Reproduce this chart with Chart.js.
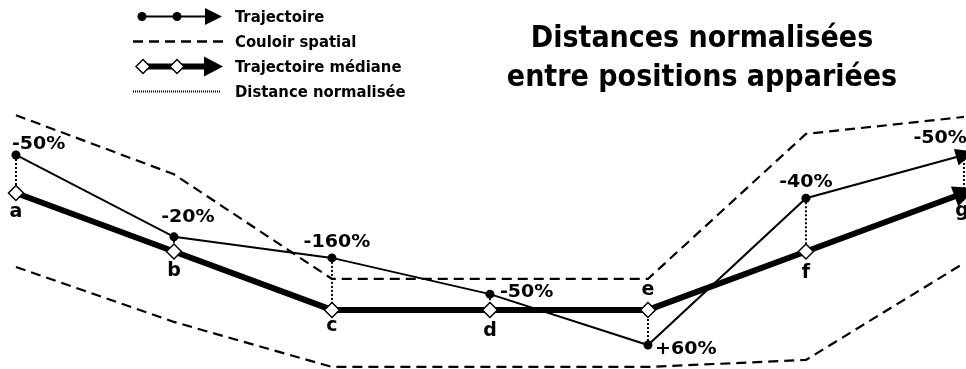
<!DOCTYPE html>
<html lang="fr">
<head>
<meta charset="utf-8">
<script src="https://cdn.jsdelivr.net/npm/chart.js@4.4.0/dist/chart.umd.min.js"></script>
<style>
	body { margin: 0; background: #fff; font-family: "DejaVu Sans", sans-serif; }
	#wrap { position: relative; width: 966px; height: 369px; }
	#title { position: absolute; left: 402px; top: 17px; width: 600px; text-align: center; font-family: "DejaVu Sans Condensed", "DejaVu Sans", sans-serif; font-stretch: condensed; font-weight: bold; font-size: 30px; line-height: 39px; color: #000; }
	#legend { position: absolute; left: 130px; top: 3.5px; }
	.row { display: flex; align-items: center; height: 25px; font-family: "DejaVu Sans Condensed", "DejaVu Sans", sans-serif; font-stretch: condensed; font-weight: bold; font-size: 16.5px; color: #000; }
	.row svg { width: 100px; height: 25px; margin-right: 5px; flex: none; }
</style>
</head>
<body>
<div id="wrap">
	<canvas id="chart"></canvas>
	<div id="title">Distances normalisées<br>entre positions appariées</div>
	<div id="legend">
		<div class="row">
			<svg viewBox="0 0 100 25"><line x1="8" y1="12.5" x2="80" y2="12.5" stroke="#000" stroke-width="2"/><circle cx="12" cy="12.5" r="4.5"/><circle cx="47" cy="12.5" r="4.5"/><polygon points="75,4 92,12.5 75,21"/></svg>
			<span>Trajectoire</span>
		</div>
		<div class="row">
			<svg viewBox="0 0 100 25"><line x1="3" y1="12.5" x2="93" y2="12.5" stroke="#000" stroke-width="2.5" stroke-dasharray="10 6"/></svg>
			<span>Couloir spatial</span>
		</div>
		<div class="row">
			<svg viewBox="0 0 100 25"><line x1="13" y1="12.5" x2="80" y2="12.5" stroke="#000" stroke-width="6"/><polygon points="6,12.5 13,5.5 20,12.5 13,19.5" fill="#fff" stroke="#000" stroke-width="1.5"/><polygon points="40,12.5 47,5.5 54,12.5 47,19.5" fill="#fff" stroke="#000" stroke-width="1.5"/><polygon points="74,2.5 93,12.5 74,22.5"/></svg>
			<span>Trajectoire médiane</span>
		</div>
		<div class="row">
			<svg viewBox="0 0 100 25"><line x1="3" y1="12.5" x2="90" y2="12.5" stroke="#000" stroke-width="2" stroke-dasharray="1 1"/></svg>
			<span>Distance normalisée</span>
		</div>
	</div>
</div>
<script>
// positions appariées a..g
const categories = ["a", "b", "c", "d", "e", "f", "g"];
const trajectoire = [2.65, 1.25, 0.89, 0.27, -0.6, 1.91, 2.65];
const trajectoireMediane = [2, 1, 0, 0, 0, 1, 2];
const couloirHaut = [3.33, 2.32, 0.53, 0.53, 0.53, 3.01, 3.3];
const couloirBas = [0.735, -0.205, -0.975, -0.975, -0.975, -0.855, 0.8];
const distances = ["-50%", "-20%", "-160%", "-50%", "+60%", "-40%", "-50%"];

// label placement: dx, dy, align
const distLabelPos = [[-4, -10, "left"], [14, -19, "center"], [5, -15, "center"], [10, -2, "left"], [7, 5, "left"], [0, -16, "center"], [3, -16, "right"]];
const letterLabelPos = [[0, 19], [0, 20], [0, 16], [0, 21], [0, -20], [0, 22], [-2, 18]];

function toPoints(values) {
	return values.map((v, i) => ({ x: i, y: v }));
}

function lastHidden(r) {
	return (ctx) => (ctx.dataIndex === categories.length - 1 ? 0 : r);
}

function drawArrow(ctx, meta, len, back, half) {
	const pts = meta.data;
	const p = pts[pts.length - 1];
	const q = pts[pts.length - 2];
	const a = Math.atan2(p.y - q.y, p.x - q.x);
	const c = Math.cos(a), s = Math.sin(a);
	const bx = p.x - back * c, by = p.y - back * s;
	ctx.beginPath();
	ctx.moveTo(p.x + (len - back) * c, p.y + (len - back) * s);
	ctx.lineTo(bx - half * s, by + half * c);
	ctx.lineTo(bx + half * s, by - half * c);
	ctx.closePath();
	ctx.fill();
}

const annotations = {
	id: "annotations",
	beforeDatasetsDraw(chart) {
		const { ctx, scales: { x, y } } = chart;
		ctx.save();
		ctx.strokeStyle = "#000";
		ctx.lineWidth = 2;
		ctx.setLineDash([2, 2]);
		categories.forEach((c, i) => {
			ctx.beginPath();
			ctx.moveTo(x.getPixelForValue(i), y.getPixelForValue(trajectoire[i]));
			ctx.lineTo(x.getPixelForValue(i), y.getPixelForValue(trajectoireMediane[i]));
			ctx.stroke();
		});
		ctx.restore();
	},
	afterDatasetsDraw(chart) {
		const { ctx, scales: { x, y } } = chart;
		ctx.save();
		ctx.fillStyle = "#000";
		drawArrow(ctx, chart.getDatasetMeta(0), 20, 8, 8.5);
		drawArrow(ctx, chart.getDatasetMeta(1), 24, 10, 10.5);

		// distance labels are a bit wide in the original
		ctx.font = "bold 17px 'DejaVu Sans'";
		ctx.textBaseline = "middle";
		distances.forEach((t, i) => {
			const [dx, dy, align] = distLabelPos[i];
			ctx.save();
			ctx.translate(x.getPixelForValue(i) + dx, y.getPixelForValue(trajectoire[i]) + dy);
			ctx.scale(1.12, 1);
			ctx.textAlign = align;
			ctx.fillText(t, 0, 0);
			ctx.restore();
		});
		ctx.font = "bold 19px 'DejaVu Sans'";
		ctx.textAlign = "center";
		categories.forEach((t, i) => {
			const [dx, dy] = letterLabelPos[i];
			ctx.fillText(t, x.getPixelForValue(i) + dx, y.getPixelForValue(trajectoireMediane[i]) + dy);
		});
		ctx.restore();
	},
};

new Chart(document.getElementById("chart"), {
	type: "line",
	data: {
		datasets: [
			{
				label: "Trajectoire",
				data: toPoints(trajectoire),
				borderColor: "#000",
				borderWidth: 2,
				pointStyle: "circle",
				pointRadius: lastHidden(4.5),
				pointBackgroundColor: "#000",
				pointBorderWidth: 0,
				tension: 0,
				clip: false,
			},
			{
				label: "Trajectoire médiane",
				data: toPoints(trajectoireMediane),
				borderColor: "#000",
				borderWidth: 6,
				pointStyle: "rectRot",
				pointRadius: lastHidden(7.5),
				pointBackgroundColor: "#fff",
				pointBorderColor: "#000",
				pointBorderWidth: 1.5,
				tension: 0,
				clip: false,
			},
			{
				label: "Couloir spatial",
				data: toPoints(couloirHaut),
				borderColor: "#000",
				borderWidth: 2.2,
				borderDash: [10, 6],
				pointRadius: 0,
				tension: 0,
				clip: false,
			},
			{
				label: "Couloir spatial",
				data: toPoints(couloirBas),
				borderColor: "#000",
				borderWidth: 2.2,
				borderDash: [10, 6],
				pointRadius: 0,
				tension: 0,
				clip: false,
			},
		],
	},
	options: {
		responsive: true,
		maintainAspectRatio: false,
		animation: false,
		layout: { padding: 0, autoPadding: false },
		plugins: {
			legend: { display: false },
			tooltip: { enabled: false },
		},
		scales: {
			x: { type: "linear", min: -0.101, max: 6.013, display: false },
			y: { type: "linear", min: -1.01, max: 5.3, display: false },
		},
	},
	plugins: [annotations],
});
</script>
</body>
</html>
